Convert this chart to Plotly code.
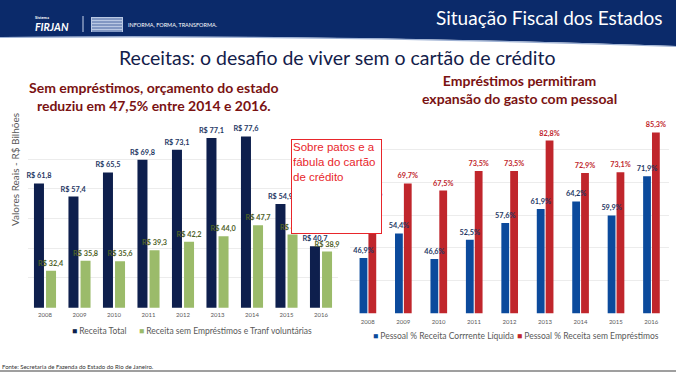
import plotly.graph_objects as go

W, H = 676, 372

years = ["2008", "2009", "2010", "2011", "2012", "2013", "2014", "2015", "2016"]
receita_total = [61.8, 57.4, 65.5, 69.8, 73.1, 77.1, 77.6, 54.9, 40.7]
receita_sem_emprest = [32.4, 35.8, 35.6, 39.3, 42.2, 44.0, 47.7, 44.6, 38.9]
pessoal_rcl = [46.9, 54.4, 46.6, 52.5, 57.6, 61.9, 64.2, 59.9, 71.9]
pessoal_sem_emprest = [64.4, 69.7, 67.5, 73.5, 73.5, 82.8, 72.9, 73.1, 85.3]

left_names = ["Receita Total", "Receita sem Empréstimos e Tranf voluntárias"]
right_names = ["Pessoal % Receita Corrrente Líquida", "Pessoal % Receita sem Empréstimos"]

FONT = "Lato"
NAVY = "#0e1f4d"
GREEN = "#9bbb6a"
BLUE = "#0b4a9c"
RED = "#c0262c"


def px(x):
    return x / W


def py(y):
    return 1 - y / H


def brl(v):
    return ("R$ %.1f" % v).replace(".", ",")


def pct(v):
    return ("%.1f%%" % v).replace(".", ",")


fig = go.Figure()

series = [
    # values, name, color, label color, labels, width, offset, axes
    (receita_total, left_names[0], NAVY, "#1f3864", [brl(v) for v in receita_total], 0.29, -0.32, "x", "y"),
    (receita_sem_emprest, left_names[1], GREEN, "#4f6228", [brl(v) for v in receita_sem_emprest], 0.29, 0.03, "x", "y"),
    (pessoal_rcl, right_names[0], BLUE, "#1f3864", [pct(v) for v in pessoal_rcl], 0.22, -0.23, "x2", "y2"),
    (pessoal_sem_emprest, right_names[1], RED, RED, [pct(v) for v in pessoal_sem_emprest], 0.22, 0.02, "x2", "y2"),
]

# visible bars
for vals, name, col, lcol, labels, w, off, xa, ya in series:
    fig.add_trace(go.Bar(
        x=years, y=vals, name=name, marker_color=col, marker_line_width=0,
        width=w, offset=off, xaxis=xa, yaxis=ya, showlegend=False,
        hoverinfo="x+y+name",
    ))

# data labels drawn on top of all bars (transparent copies of the same bars)
for vals, name, col, lcol, labels, w, off, xa, ya in series:
    fig.add_trace(go.Bar(
        x=years, y=vals, name=name, marker_color="rgba(0,0,0,0)", marker_line_width=0,
        width=w, offset=off, xaxis=xa, yaxis=ya, showlegend=False, hoverinfo="skip",
        text=labels, textposition="outside", cliponaxis=False, constraintext="none",
        textfont=dict(family=FONT, size=7.3, color=lcol, weight="bold"),
    ))

axis_common = dict(showline=False, zeroline=False, ticks="",
                   tickfont=dict(family=FONT, size=6, color="#595959"))

shapes = []
# header band
shapes.append(dict(
    type="path", xref="paper", yref="paper", layer="below",
    path="M %f,%f L %f,%f L %f,%f Q %f,%f %f,%f Z" % (
        px(0), py(0), px(676), py(0), px(676), py(46),
        px(330), py(34), px(0), py(37)),
    fillcolor="#0b2a6a", line=dict(width=0),
))
shapes.append(dict(
    type="path", xref="paper", yref="paper", layer="below",
    path="M %f,%f Q %f,%f %f,%f" % (px(0), py(37.5), px(330), py(34.5), px(676), py(46.5)),
    line=dict(color="#9fb2d4", width=1.2),
))
# logo separator + logo box
shapes.append(dict(type="line", xref="paper", yref="paper",
                   x0=px(83), x1=px(83), y0=py(16), y1=py(32),
                   line=dict(color="#c8d3ea", width=1)))
shapes.append(dict(type="rect", xref="paper", yref="paper",
                   x0=px(91), x1=px(123), y0=py(17), y1=py(32),
                   fillcolor="#b9c8e3", line=dict(width=0)))
for yy in [19, 22, 25, 28, 31]:
    shapes.append(dict(type="line", xref="paper", yref="paper",
                       x0=px(92), x1=px(122), y0=py(yy), y1=py(yy),
                       line=dict(color="#2f4f93", width=0.8)))
# footer line
shapes.append(dict(type="line", xref="paper", yref="paper",
                   x0=0, x1=1, y0=py(371), y1=py(371),
                   line=dict(color="#7f7f7f", width=1.5)))

annotations = []


def txt(x, y, text, size, color, xanchor="center", bold=False, family=FONT, **kw):
    annotations.append(dict(
        x=px(x), y=py(y), xref="paper", yref="paper", text=text, showarrow=False,
        xanchor=xanchor, yanchor="middle",
        font=dict(family=family, size=size, color=color, weight="bold" if bold else "normal"),
        **kw))


# header texts
txt(665, 18, "Situação Fiscal dos Estados", 19, "white", xanchor="right")
txt(34, 18, "Sistema", 4, "white", xanchor="left", bold=True, borderpad=0)
txt(34, 26.5, "<i>FIRJAN</i>", 10.5, "white", xanchor="left", bold=True, borderpad=0)
txt(127, 25, "INFORMA, FORMA, TRANSFORMA.", 5.5, "white", xanchor="left", borderpad=0)

# title & subtitles
txt(337, 58, "Receitas: o desafio de viver sem o cartão de crédito", 19.5, "#13204a")
txt(154, 96, "Sem empréstimos, orçamento do estado<br>reduziu em 47,5% entre 2014 e 2016.",
    14, "#7a1212", bold=True)
txt(519, 89.5, "Empréstimos permitiram<br>expansão do gasto com pessoal", 14, "#7a1212", bold=True)

# y-axis title (left)
annotations.append(dict(
    x=px(15), y=py(170), xref="paper", yref="paper", text="Valores Reais - R$ Bilhões",
    showarrow=False, textangle=-90, xanchor="center", yanchor="middle",
    font=dict(family=FONT, size=10, color="#595959")))

# legends
leg = [
    (73, 331, NAVY, left_names[0]),
    (140, 331, GREEN, left_names[1]),
    (374, 336, BLUE, right_names[0]),
    (518, 336, RED, right_names[1]),
]
for x, y, c, name in leg:
    annotations.append(dict(
        x=px(x - 2), y=py(y), xref="paper", yref="paper",
        text="<span style='color:%s'>■</span> %s" % (c, name),
        showarrow=False, xanchor="left", yanchor="middle", borderpad=0,
        font=dict(family=FONT, size=8.5, color="#595959")))

# footer
txt(1, 366, "Fonte: Secretaria de Fazenda do Estado do Rio de Janeiro.", 6, "#333333",
    xanchor="left", borderpad=0)

# callout box
annotations.append(dict(
    x=px(291), y=py(139), xref="paper", yref="paper",
    text="Sobre patos e a<br>fábula do cartão<br>de crédito",
    showarrow=False, xanchor="left", yanchor="top", align="left", valign="top",
    width=87, height=91, bgcolor="white", bordercolor="#e8262b", borderwidth=1, borderpad=1,
    font=dict(family="Liberation Sans", size=11.5, color="#e8262b")))

fig.update_layout(
    width=W, height=H, autosize=False,
    margin=dict(l=0, r=0, t=0, b=0),
    paper_bgcolor="white", plot_bgcolor="white",
    barmode="overlay",
    xaxis=dict(domain=[px(27.75), px(338.25)], anchor="y", **axis_common,
               type="category", showgrid=False, ticklabelstandoff=2),
    yaxis=dict(domain=[py(307.7), py(129.3)], range=[20, 80], anchor="x",
               tickvals=[20, 30, 40, 50, 60, 70, 80], showticklabels=False,
               showgrid=True, gridcolor="#ececec", gridwidth=1,
               zeroline=False, showline=False, ticks=""),
    xaxis2=dict(domain=[px(350), px(669)], anchor="y2", **axis_common,
                type="category", showgrid=False, ticklabelstandoff=4),
    yaxis2=dict(domain=[py(313.3), py(117)], range=[30, 90], anchor="x2",
                tickvals=[30, 40, 50, 60, 70, 80, 90], showticklabels=False,
                showgrid=True, gridcolor="#ececec", gridwidth=1,
                zeroline=False, showline=False, ticks=""),
    shapes=shapes,
    annotations=annotations,
    showlegend=False,
)

fig.write_html(
    "out.html",
    config={"displayModeBar": False},
    post_script="document.body.style.margin='0';document.body.style.overflow='hidden';",
)
